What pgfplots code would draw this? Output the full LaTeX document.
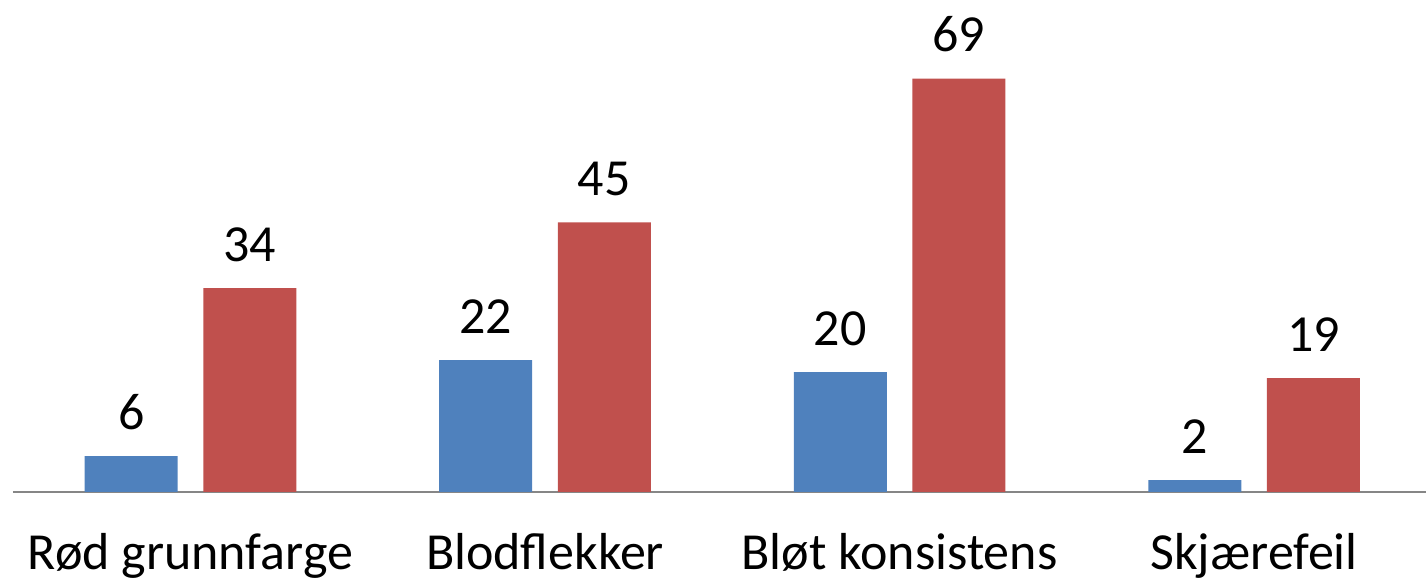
\documentclass[border=0pt]{standalone}
\usepackage{pgfplots}
\pgfplotsset{compat=1.18}
\usepackage{fontspec}
\setmainfont{Carlito}

\definecolor{serblue}{HTML}{4F81BD}
\definecolor{serred}{HTML}{C0504D}
\definecolor{axgray}{HTML}{868686}

\begin{document}
\begin{tikzpicture}
\begin{axis}[
	scale only axis, width=141.3mm, height=49.2mm,
	xmin=-0.5007, xmax=3.485, ymin=0, ymax=82.1,
	axis x line=bottom, axis y line=none,
	axis line style={axgray, line width=0.35pt, -},
	xtick=data, xticklabels={Rød grunnfarge, Blodflekker, Bløt konsistens, Skjærefeil},
	major tick length=0pt,
	xticklabel style={font=\fontsize{14.8}{16}\selectfont, anchor=base, yshift=-7.8mm, inner sep=0pt},
	ytick=\empty,
	/pgf/number format/assume math mode=true,
	ybar, bar width=9.3mm,
	nodes near coords,
	every node near coord/.append style={font=\fontsize{14.8}{16}\selectfont, anchor=base, yshift=2.7mm, inner sep=0pt, black},
	clip=false
]
\addplot[fill=serblue, draw=none, bar shift=-5.93mm] coordinates {(0,6) (1,22) (2,20) (3,2)};
\addplot[fill=serred, draw=none, bar shift=5.93mm] coordinates {(0,34) (1,45) (2,69) (3,19)};
\end{axis}
\pgfresetboundingbox
\path (-1.3mm,-9.5mm) rectangle (141.3mm,49.2mm);
\end{tikzpicture}
\end{document}
